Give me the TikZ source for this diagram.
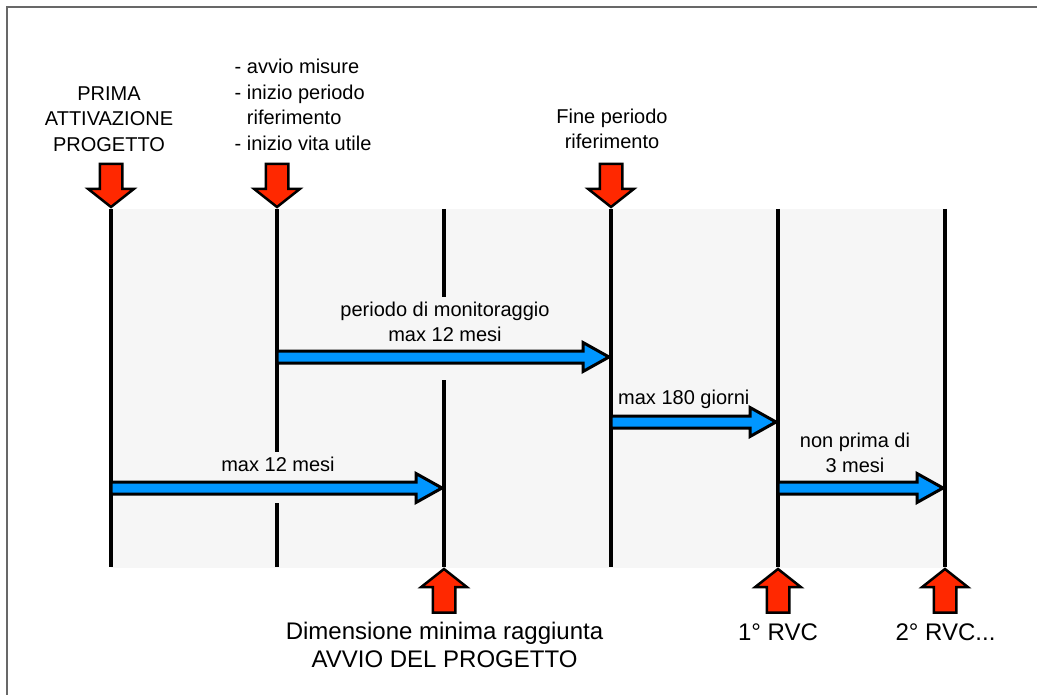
\documentclass[tikz,border=0pt]{standalone}
\usepackage{fontspec}
\setmainfont{Liberation Sans}
\usetikzlibrary{calc}
\definecolor{bgfill}{HTML}{F6F6F6}
\definecolor{arrblue}{RGB}{0,150,255}
\definecolor{arrred}{RGB}{255,40,0}
\definecolor{framecol}{HTML}{686868}
\newcommand\blueArrow[2]{\draw[bluearr] ($(#1)+(0,-6)$) -- ($(#2)+(-28,-6)$) -- ($(#2)+(-28,-14.5)$) -- ($(#2)+(-2,0)$) -- ($(#2)+(-28,14.5)$) -- ($(#2)+(-28,6)$) -- ($(#1)+(0,6)$) -- cycle;}
\newcommand\redDown[1]{\draw[redarr] (#1) ++(0,-2) -- ++(22.75,-18) -- ++(-11.5,0) -- ++(0,-25) -- ++(-22.5,0) -- ++(0,25) -- ++(-11.5,0) -- cycle;}
\newcommand\redUp[1]{\draw[redarr] (#1) ++(0,2) -- ++(22.75,18) -- ++(-11.5,0) -- ++(0,25.5) -- ++(-22.5,0) -- ++(0,-25.5) -- ++(-11.5,0) -- cycle;}
\begin{document}
\begin{tikzpicture}[x=1pt,y=-1pt,
  vline/.style={line width=4.3pt, draw=black},
  bluearr/.style={draw=black, fill=arrblue, line width=3pt},
  redarr/.style={draw=black, fill=arrred, line width=2.5pt},
  lbl/.style={font=\fontsize{20}{25.6}\selectfont, inner sep=0pt, align=center},
  biglbl/.style={font=\fontsize{24}{28.4}\selectfont, inner sep=0pt, align=center}]
\useasboundingbox (0,0) rectangle (1037,695);
\clip (0,0) rectangle (1037,695);
\draw[framecol, line width=2pt] (7,7) rectangle (1060,720);
\fill[bgfill] (111,209) rectangle (945,568);
% timeline coordinates
\foreach \i/\xx in {1/111,2/277,3/444,4/611,5/778,6/945}{
  \coordinate (t\i) at (\xx,209);
  \coordinate (b\i) at (\xx,567);
}
\coordinate (g2a) at (277,452); \coordinate (g2b) at (277,503);
\coordinate (g3a) at (444,297); \coordinate (g3b) at (444,380);
\draw[vline] (t1) -- (b1);
\draw[vline] (t2) -- (g2a) (g2b) -- (b2);
\draw[vline] (t3) -- (g3a) (g3b) -- (b3);
\draw[vline] (t4) -- (b4);
\draw[vline] (t5) -- (b5);
\draw[vline] (t6) -- (b6);
% blue arrows
\coordinate (m1s) at (277,357); \coordinate (m1e) at (611,357);
\coordinate (m2s) at (611,422); \coordinate (m2e) at (778,422);
\coordinate (m3s) at (111,488); \coordinate (m3e) at (444,488);
\coordinate (m4s) at (778,488); \coordinate (m4e) at (945,488);
\blueArrow{m1s}{m1e}
\blueArrow{m2s}{m2e}
\blueArrow{m3s}{m3e}
\blueArrow{m4s}{m4e}
% red arrows
\redDown{t1}
\redDown{t2}
\redDown{t4}
\redUp{b3}
\redUp{b5}
\redUp{b6}
% labels
\node[lbl, anchor=north] (prima) at (109,86.2) {PRIMA\\ATTIVAZIONE\\PROGETTO};
\node[lbl, anchor=north west, align=left] (avvio) at (234.5,59) {- avvio misure\\- inizio periodo\\\phantom{- }riferimento\\- inizio vita utile};
\node[lbl, anchor=north] (fine) at (612,108.4) {Fine periodo\\riferimento};
\node[lbl, anchor=north] (monit) at (445,301.7) {periodo di monitoraggio\\max 12 mesi};
\node[lbl, anchor=base west] (l180) at (618,404) {max 180 giorni};
\node[lbl, anchor=base] (l12) at (278,471.5) {max 12 mesi};
\node[lbl, anchor=north] (nonprima) at (855,432.4) {non prima di\\3 mesi};
\node[biglbl, anchor=north] (dim) at (444.5,621.8) {Dimensione minima raggiunta\\AVVIO DEL PROGETTO};
\node[biglbl, anchor=base] (rvc1) at (778,640) {1° RVC};
\node[biglbl, anchor=base] (rvc2) at (945.5,640) {2° RVC...};
\end{tikzpicture}
\end{document}
